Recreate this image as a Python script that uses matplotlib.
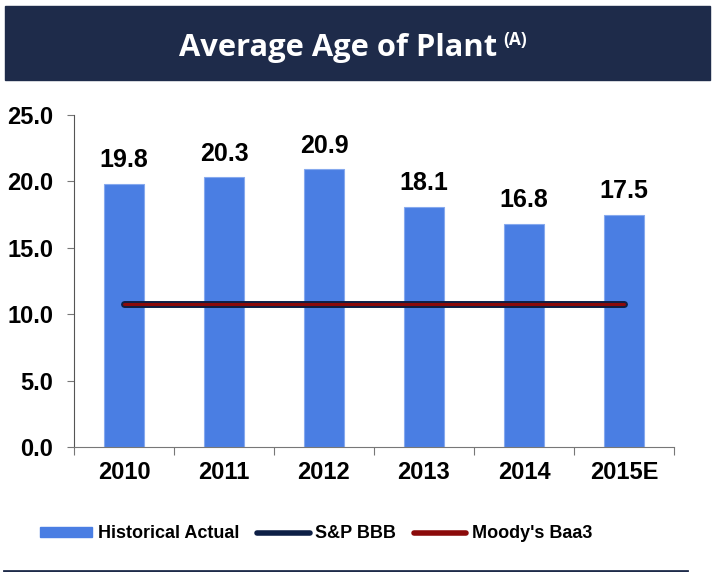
import matplotlib
matplotlib.use("Agg")
import matplotlib.pyplot as plt
from matplotlib.patches import Rectangle, Patch
from matplotlib.lines import Line2D
import numpy as np

years = ["2010", "2011", "2012", "2013", "2014", "2015E"]
historical = [19.8, 20.3, 20.9, 18.1, 16.8, 17.5]
sp_bbb = [10.8, 10.8, 10.8, 10.8, 10.8, 10.8]
moodys_baa3 = [10.8, 10.8, 10.8, 10.8, 10.8, 10.8]
yticks = [0, 5, 10, 15, 20, 25]

W, H = 712, 572
navy = "#1E2B4A"
bar_blue = "#4A7EE3"

plt.rcParams['font.family'] = ['Liberation Sans', 'DejaVu Sans']
fig = plt.figure(figsize=(W / 100, H / 100), dpi=100)

# header band with title
fig.patches.append(Rectangle((5 / W, 1 - 80 / H), 705 / W, 74 / H,
                             transform=fig.transFigure, color=navy, zorder=0))
fig.text(497 / W, 1 - 56 / H, "Average Age of Plant", ha='right', va='baseline',
         color='white', fontsize=22.2, fontweight='bold', family=['Open Sans', 'DejaVu Sans'])
fig.text(503 / W, 1 - 45 / H, "(A)", ha='left', va='baseline',
         color='white', fontsize=12.5, fontweight='bold', family=['Open Sans', 'DejaVu Sans'])
# bottom rule
fig.lines.append(Line2D([4 / W, 687 / W], [1 - 570.5 / H, 1 - 570.5 / H],
                        transform=fig.transFigure, color=navy, lw=2))

ax = fig.add_axes([74 / W, (H - 447) / H, 600 / W, 332 / H])
x = np.arange(len(years))
bars = ax.bar(x, historical, width=0.4, color=bar_blue, edgecolor='#86A9EE',
              linewidth=0.8, zorder=2)
ax.plot(x, sp_bbb, color='#0D1F45', lw=5, solid_capstyle='round', zorder=3)
ax.plot(x, moodys_baa3, color='#8B0A0A', lw=2.2, solid_capstyle='round', zorder=4)

for xi, v in zip(x, historical):
    ax.annotate(f"{v:.1f}", (xi, v), xytext=(0, 12), textcoords='offset points',
                ha='center', va='baseline', fontsize=18, fontweight='bold')

ax.set_xlim(-0.5, 5.5)
ax.set_ylim(0, 25)
ax.set_yticks(yticks)
ax.set_yticklabels([f"{t:.1f}" for t in yticks], fontsize=17, fontweight='bold')
ax.set_xticks(np.arange(-0.5, 6, 1))
ax.set_xticklabels([])
ax.set_xticks(x, minor=True)
ax.set_xticklabels(years, minor=True, fontsize=17, fontweight='bold')
ax.tick_params(axis='x', which='minor', length=0, pad=10)
ax.tick_params(axis='x', which='major', length=6, color='#777777', direction='out')
ax.tick_params(axis='y', length=5, color='#777777', pad=10)
for s in ['top', 'right']:
    ax.spines[s].set_visible(False)
ax.spines['left'].set_color('#555555')
ax.spines['bottom'].set_color('#777777')

handles = [Patch(color=bar_blue),
           Line2D([], [], color='#0D1F45', lw=4, solid_capstyle='round'),
           Line2D([], [], color='#8B0A0A', lw=4, solid_capstyle='round')]
fig.legend(handles, ["Historical Actual", "S&P BBB", "Moody's Baa3"],
           loc='center', bbox_to_anchor=(316 / W, 1 - 534 / H), ncol=3,
           frameon=False, handlelength=2.9, handleheight=0.5, handletextpad=0.3,
           columnspacing=1.0, prop={'size': 13, 'weight': 'bold'})

fig.savefig("out.png", dpi=100)
